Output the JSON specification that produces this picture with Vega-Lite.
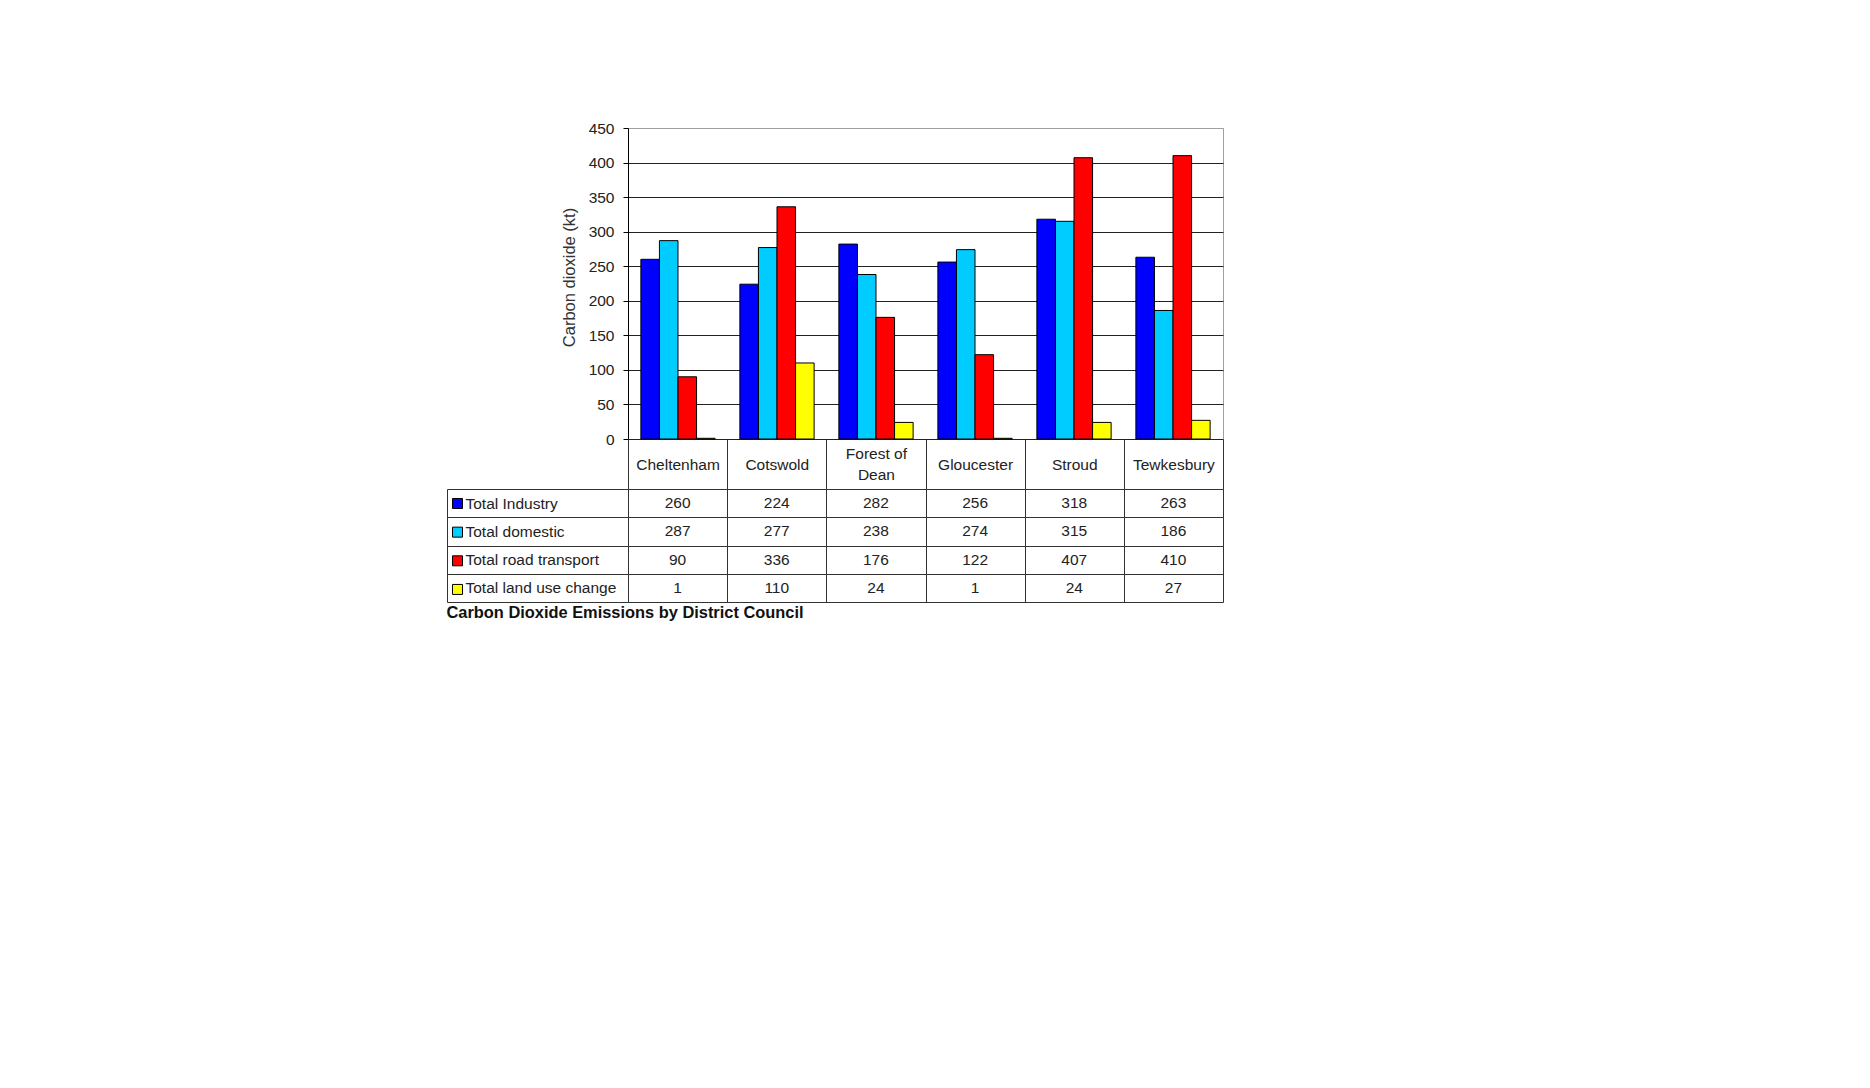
{
  "$schema": "https://vega.github.io/schema/vega-lite/v6.json",
  "background": "white",
  "padding": {"left": 446, "top": 120, "right": 10, "bottom": 10},
  "config": {"font": "Liberation Sans", "view": {"stroke": null}},
  "title": {"text": "Carbon Dioxide Emissions by District Council", "orient": "bottom", "anchor": "start", "frame": "bounds", "fontSize": 16.4, "fontWeight": "bold", "color": "#111", "offset": 2, "font": "Liberation Sans"},
  "datasets": {
    "co2": [
      {"district": "Cheltenham", "series": "Total Industry", "value": 260},
      {"district": "Cotswold", "series": "Total Industry", "value": 224},
      {"district": "Forest of Dean", "series": "Total Industry", "value": 282},
      {"district": "Gloucester", "series": "Total Industry", "value": 256},
      {"district": "Stroud", "series": "Total Industry", "value": 318},
      {"district": "Tewkesbury", "series": "Total Industry", "value": 263},
      {"district": "Cheltenham", "series": "Total domestic", "value": 287},
      {"district": "Cotswold", "series": "Total domestic", "value": 277},
      {"district": "Forest of Dean", "series": "Total domestic", "value": 238},
      {"district": "Gloucester", "series": "Total domestic", "value": 274},
      {"district": "Stroud", "series": "Total domestic", "value": 315},
      {"district": "Tewkesbury", "series": "Total domestic", "value": 186},
      {"district": "Cheltenham", "series": "Total road transport", "value": 90},
      {"district": "Cotswold", "series": "Total road transport", "value": 336},
      {"district": "Forest of Dean", "series": "Total road transport", "value": 176},
      {"district": "Gloucester", "series": "Total road transport", "value": 122},
      {"district": "Stroud", "series": "Total road transport", "value": 407},
      {"district": "Tewkesbury", "series": "Total road transport", "value": 410},
      {"district": "Cheltenham", "series": "Total land use change", "value": 1},
      {"district": "Cotswold", "series": "Total land use change", "value": 110},
      {"district": "Forest of Dean", "series": "Total land use change", "value": 24},
      {"district": "Gloucester", "series": "Total land use change", "value": 1},
      {"district": "Stroud", "series": "Total land use change", "value": 24},
      {"district": "Tewkesbury", "series": "Total land use change", "value": 27}
    ]
  },
  "data": {"name": "co2"},
  "bounds": "flush",
  "spacing": 50,
  "resolve": {"scale": {"color": "independent", "x": "independent"}, "legend": {"color": "independent"}},
  "vconcat": [
    {
      "width": 595,
      "height": 311,
      "view": {"stroke": "#a0a0a0", "strokeWidth": 1},
      "mark": {"type": "bar", "stroke": "#000", "strokeWidth": 1},
      "encoding": {
        "x": {"field": "district", "type": "nominal", "sort": ["Cheltenham", "Cotswold", "Forest of Dean", "Gloucester", "Stroud", "Tewkesbury"], "scale": {"paddingInner": 0.25, "paddingOuter": 0.13}, "axis": null},
        "xOffset": {"field": "series", "type": "nominal", "sort": ["Total Industry", "Total domestic", "Total road transport", "Total land use change"]},
        "y": {
          "field": "value", "type": "quantitative",
          "scale": {"domain": [0, 450], "nice": false},
          "axis": {
            "title": "Carbon dioxide (kt)", "values": [0, 50, 100, 150, 200, 250, 300, 350, 400, 450],
            "domain": true, "domainColor": "#000", "ticks": true, "tickSize": 5, "tickColor": "#000",
            "labelFontSize": 15.5, "labelColor": "#222", "labelPadding": 9,
            "grid": true, "gridOpacity": 1,
            "gridColor": {"condition": {"test": "datum.value === 450", "value": "#a0a0a0"}, "value": "#222"},
            "titleFontSize": 16.5, "titleFontWeight": "normal", "titleColor": "#333", "titlePadding": 11, "titleY": 149
          }
        },
        "color": {"field": "series", "type": "nominal", "scale": {"domain": ["Total Industry", "Total domestic", "Total road transport", "Total land use change"], "range": ["#0000FF", "#00CCFF", "#FF0000", "#FFFF00"]}, "legend": null}
      }
    },
    {
      "width": 595,
      "height": 113,
      "layer": [
        {
          "mark": {"type": "text", "fontSize": 15.5, "color": "#222", "baseline": "middle"},
          "encoding": {
            "x": {
              "field": "district", "type": "nominal", "sort": ["Cheltenham", "Cotswold", "Forest of Dean", "Gloucester", "Stroud", "Tewkesbury"],
              "scale": {"paddingInner": 0, "paddingOuter": 0},
              "axis": {
                "orient": "top", "title": null, "labelAngle": 0, "labelFontSize": 15.5, "labelColor": "#222",
                "labelBaseline": "middle", "labelLineHeight": 21, "labelLimit": 0,
                "labelPadding": {"condition": {"test": "datum.value == 'Forest of Dean'", "value": -14.5}, "value": -25},
                "labelExpr": "datum.value == 'Forest of Dean' ? ['Forest of', 'Dean'] : datum.value",
                "tickBand": "extent", "tickSize": 50, "tickColor": "#333", "domainColor": "#333",
                "grid": true, "gridColor": "#333", "gridOpacity": 1
              }
            },
            "y": {
              "field": "series", "type": "nominal", "sort": ["Total Industry", "Total domestic", "Total road transport", "Total land use change"],
              "scale": {"paddingInner": 0, "paddingOuter": 0},
              "axis": {
                "orient": "left", "title": null, "labelAlign": "left", "labelBaseline": "middle", "labelPadding": -18,
                "labelFontSize": 15.5, "labelColor": "#222", "labelLimit": 0,
                "tickBand": "extent", "tickSize": 181, "tickColor": "#333", "domainColor": "#333",
                "grid": true, "gridColor": "#333", "gridOpacity": 1
              }
            },
            "text": {"field": "value", "type": "quantitative"}
          }
        },
        {
          "mark": {"type": "point", "shape": "square", "filled": true, "opacity": 0, "stroke": "#000"},
          "encoding": {
            "y": {
              "field": "series", "type": "nominal", "sort": ["Total Industry", "Total domestic", "Total road transport", "Total land use change"],
              "axis": {"orient": "right", "offset": -776, "labels": false, "ticks": false, "grid": false, "domain": true, "domainColor": "#333", "title": null}
            },
            "color": {
              "field": "series", "type": "nominal",
              "scale": {"domain": ["Total Industry", "Total domestic", "Total road transport", "Total land use change"], "range": ["#0000FF", "#00CCFF", "#FF0000", "#FFFF00"]},
              "legend": {
                "orient": "none", "legendX": -176, "legendY": 9, "title": null, "direction": "vertical",
                "symbolType": "square", "symbolSize": 100, "symbolStrokeColor": "#000", "symbolStrokeWidth": 1,
                "symbolOpacity": 1, "labelExpr": "''", "labelFontSize": 1, "rowPadding": 13.65, "padding": 0, "symbolOffset": 0
              }
            }
          }
        }
      ],
      "resolve": {"axis": {"y": "independent"}}
    }
  ]
}
